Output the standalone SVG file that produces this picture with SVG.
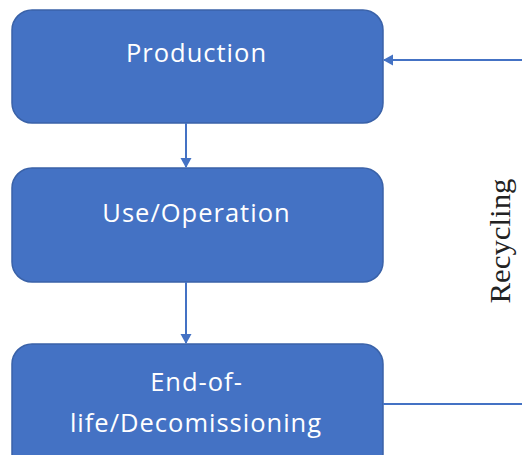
<svg xmlns="http://www.w3.org/2000/svg" width="522" height="455" viewBox="0 0 522 455">
<style>
.box{fill:#4472C4;stroke:#3A62A8;stroke-width:1.5}
.lbl{font-family:"Open Sans","Noto Sans",sans-serif;font-size:25.5px;letter-spacing:1px;fill:#ffffff;text-anchor:middle}
.conn{stroke:#4472C4;stroke-width:2;fill:none}
</style>
<defs>
<marker id="ah" markerWidth="12" markerHeight="12" refX="9" refY="6" orient="auto" markerUnits="userSpaceOnUse">
<path d="M0,0.5 L10,6 L0,11.5 Z" fill="#4472C4"/>
</marker>
</defs>
<rect width="522" height="455" fill="#ffffff"/>
<g id="production">
<rect class="box" x="12" y="10" width="371" height="113" rx="20"/>
<text class="lbl" x="196.5" y="62">Production</text>
</g>
<g id="use">
<rect class="box" x="12" y="168" width="371" height="114" rx="20"/>
<text class="lbl" x="196.5" y="222">Use/Operation</text>
</g>
<g id="eol">
<rect class="box" x="12" y="344" width="371" height="130" rx="20"/>
<text class="lbl" x="196.5" y="391">End-of-</text>
<text class="lbl" x="196" y="432">life/Decomissioning</text>
</g>
<g id="connectors">
<line class="conn" x1="186" y1="123" x2="186" y2="167" marker-end="url(#ah)"/>
<line class="conn" x1="186" y1="282" x2="186" y2="343" marker-end="url(#ah)"/>
<line class="conn" x1="383" y1="404" x2="522" y2="404"/>
<line class="conn" x1="522" y1="60" x2="384" y2="60" marker-end="url(#ah)"/>
</g>
<text x="0" y="0" transform="translate(510,241) rotate(-90)" font-family="Liberation Serif,serif" font-size="29" text-anchor="middle" textLength="125" lengthAdjust="spacingAndGlyphs" fill="#222">Recycling</text>
</svg>
